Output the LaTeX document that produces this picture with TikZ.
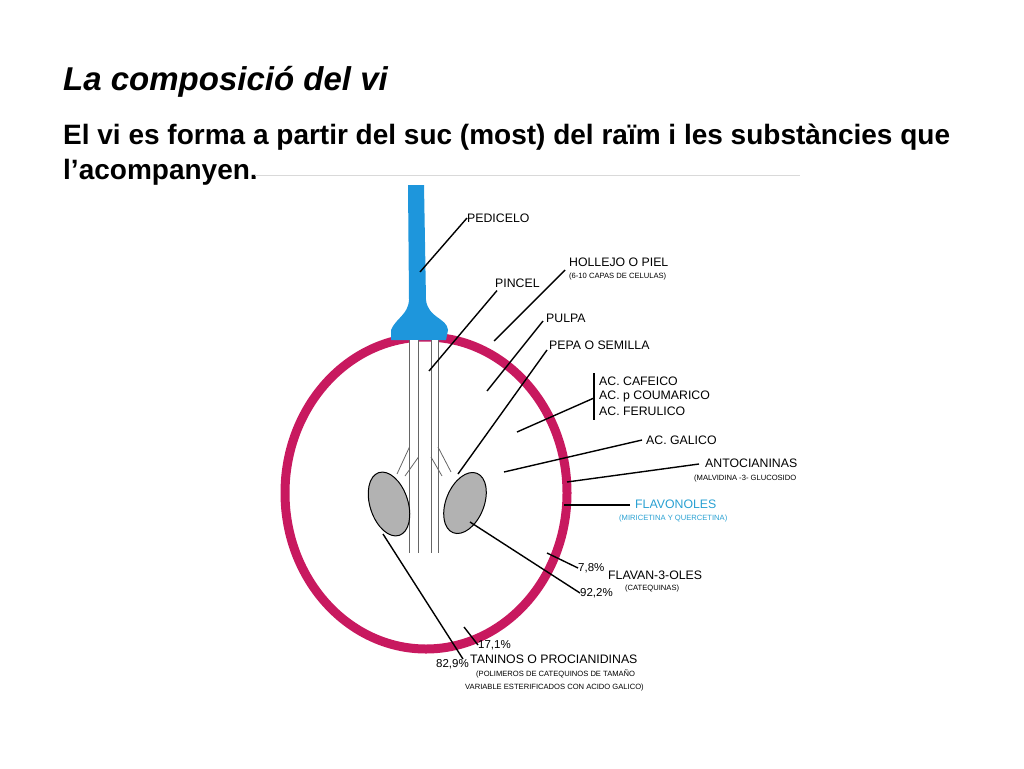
\documentclass[tikz,border=0pt]{standalone}
\usepackage{fontspec}
\setmainfont{Liberation Sans}
\definecolor{skin}{RGB}{200,25,95}
\definecolor{stemb}{RGB}{30,150,220}
\definecolor{flav}{RGB}{40,160,210}
\begin{document}
\begin{tikzpicture}[x=1pt,y=-1pt,
 lab/.style={anchor=west,inner sep=0,font=\fontsize{12.3}{13}\selectfont},
 sub/.style={anchor=west,inner sep=0,font=\fontsize{7.6}{8}\selectfont},
 pct/.style={anchor=west,inner sep=0,font=\fontsize{11.5}{12}\selectfont},
 lead/.style={line width=1.4pt}]
\useasboundingbox (0,0) rectangle (1024,768);
\node[anchor=west,inner sep=0,font=\fontsize{33}{36}\selectfont\bfseries\itshape] (title) at (63,82) {La composició del vi};
\node[anchor=west,inner sep=0,font=\fontsize{28}{30}\selectfont\bfseries] (t1) at (63,137) {El vi es forma a partir del suc (most) del raïm i les substàncies que};
\node[anchor=west,inner sep=0,font=\fontsize{28}{30}\selectfont\bfseries] (t2) at (63,172) {l’acompanyen.};
\draw[gray!30] (255,175) -- (800,175);
% berry
\draw[skin,line width=9pt] (426,493) ellipse [x radius=141, y radius=156];
% stem
\fill[stemb] (408,185) -- (424,185) -- (426,300) .. controls (428,318) and (447,318) .. (448,330) -- (446,340) -- (391,340) -- (391,330) .. controls (396,318) and (408,315) .. (409,300) -- cycle;
% pincel
\foreach \a/\b in {409.5/418.5,431/438}{
 \fill[white] (\a,340) rectangle (\b,553);
 \draw[gray!80!black,line width=0.8pt] (\a,340) -- (\a,553) (\b,340) -- (\b,553);}
\draw[gray!80!black,line width=0.8pt] (409.5,447) -- (397,474) (418.5,457) -- (405,476);
\draw[gray!80!black,line width=0.8pt] (431,457) -- (442,476) (438,447) -- (451,472);
% seeds
\draw[fill=gray!60,line width=1pt] (389,504) ellipse [x radius=19, y radius=33, rotate=18];
\draw[fill=gray!60,line width=1pt] (465,503) ellipse [x radius=19, y radius=32, rotate=-22];
% labels
\node[lab] (ped) at (467,218) {PEDICELO};
\draw[lead] (ped.west) -- (420,272);
\node[lab] (hol) at (569,262) {HOLLEJO O PIEL};
\node[sub] (hols) at (569,277) {(6-10 CAPAS DE CELULAS)};
\draw[lead] (hol.west) ++(-4,8) coordinate (h1) (h1) -- (494,341);
\node[lab] (pin) at (495,283) {PINCEL};
\draw[lead] (pin.south west) ++(2,3) coordinate (p1) (p1) -- (429,371);
\node[lab] (pul) at (546,318) {PULPA};
\draw[lead] (pul.west) ++(-3,3) coordinate (u1) (u1) -- (487,391);
\node[lab] (pep) at (549,345) {PEPA O SEMILLA};
\draw[lead] (pep.west) ++(-2,5) coordinate (e1) (e1) -- (458,474);
\node[lab] (ac1) at (599,381) {AC. CAFEICO};
\node[lab] (ac2) at (599,396) {AC. p COUMARICO};
\node[lab] (ac3) at (599,411) {AC. FERULICO};
\draw[line width=1.2pt] (594,373) -- (594,420);
\coordinate (acm) at (594,398);
\draw[lead] (acm) -- (517,432);
\node[lab] (gal) at (646,440) {AC. GALICO};
\draw[lead] (gal.west) ++(-4,0) coordinate (g1) (g1) -- (504,472);
\node[lab] (ant) at (705,463) {ANTOCIANINAS};
\node[sub] (ants) at (694,479) {(MALVIDINA -3- GLUCOSIDO};
\draw[lead] (ant.west) ++(-6,1) coordinate (a1) (a1) -- (567,482);
\node[lab,text=flav] (fla) at (635,504) {FLAVONOLES};
\node[sub,text=flav] (flas) at (619,519) {(MIRICETINA Y QUERCETINA)};
\draw[lead] (fla.west) ++(-5,1) coordinate (f1) (f1) -- (564,505);
\node[pct] (p78) at (578,568) {7,8\%};
\node[lab] (fv) at (608,575) {FLAVAN-3-OLES};
\node[sub] (fvs) at (625,589) {(CATEQUINAS)};
\node[pct] (p92) at (580,593) {92,2\%};
\draw[lead] (p78.west) -- (547,553);
\draw[lead] (p92.west) -- (470,522);
\node[pct] (p17) at (478,645) {17,1\%};
\draw[lead] (p17.west) -- (464,627);
\node[lab] (tan) at (470,659) {TANINOS O PROCIANIDINAS};
\node[pct] (p82) at (436,664) {82,9\%};
\draw[lead] (p82.north east) ++(-6,0) coordinate (k1) (k1) -- (383,534);
\node[sub] (tan1) at (476,674) {(POLIMEROS DE CATEQUINOS DE TAMAÑO};
\node[sub] (tan2) at (465,688) {VARIABLE ESTERIFICADOS CON ACIDO GALICO)};
\end{tikzpicture}
\end{document}
